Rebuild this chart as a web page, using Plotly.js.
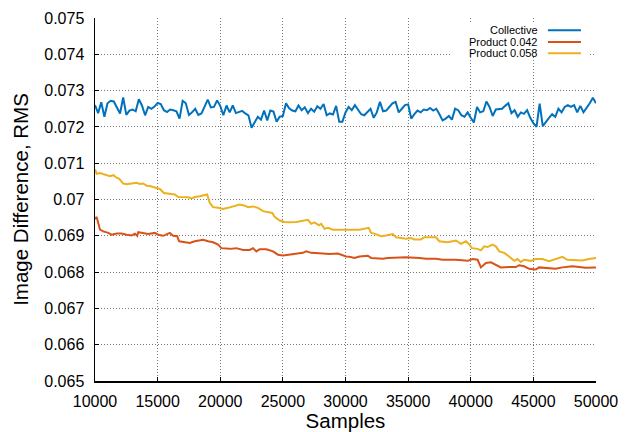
<!DOCTYPE html>
<html>
<head>
<meta charset="utf-8">
<script src="https://cdn.plot.ly/plotly-3.0.1.min.js"></script>
<style>html,body{margin:0;padding:0;background:#fff;}#chart{width:630px;height:432px;}</style>
</head>
<body>
<div id="chart"></div>
<script>
const seriesNames = ["Collective", "Product 0.042", "Product 0.058"];
const seriesColors = ["#0072BD", "#D95319", "#EDB120"];

const collectiveX = [10000,10250,10500,10750,11000,11250,11500,11750,12000,12250,12500,12750,13000,13250,13500,13750,14000,14250,14500,14750,
15000,15250,15500,15750,16000,16250,16500,16750,17000,17250,17500,17750,18000,18250,18500,18750,19000,19250,19500,19750,
20000,20250,20500,20750,21000,21250,21500,21750,22000,22250,22500,22750,23000,23250,23500,23750,24000,24250,24500,24750,
25000,25250,25500,25750,26000,26250,26500,26750,27000,27250,27500,27750,28000,28250,28500,28750,29000,29250,29500,29750,
30000,30250,30500,30750,31000,31250,31500,31750,32000,32250,32500,32750,33000,33250,33500,33750,34000,34250,34500,34750,
35000,35250,35500,35750,36000,36250,36500,36750,37000,37250,37500,37750,38000,38250,38500,38750,39000,39250,39500,39750,
40000,40250,40500,40750,41000,41250,41500,41750,42000,42250,42500,42750,43000,43250,43500,43750,44000,44250,44500,44750,
45000,45250,45500,45750,46000,46250,46500,46750,47000,47250,47500,47750,48000,48250,48500,48750,49000,49250,49500,49750,50000];
const collectiveY = [0.07260,0.07238,0.07268,0.07228,0.07265,0.07272,0.07270,0.07255,0.07237,0.07281,0.07233,0.07245,0.07248,0.07243,0.07276,0.07259,0.07232,0.07255,0.07250,0.07256,
0.07266,0.07263,0.07246,0.07241,0.07248,0.07246,0.07243,0.07223,0.07272,0.07265,0.07233,0.07240,0.07250,0.07233,0.07237,0.07256,0.07275,0.07254,0.07255,0.07273,
0.07258,0.07232,0.07259,0.07240,0.07259,0.07238,0.07241,0.07244,0.07237,0.07232,0.07198,0.07215,0.07228,0.07220,0.07245,0.07218,0.07245,0.07242,0.07214,0.07228,
0.07230,0.07265,0.07251,0.07245,0.07243,0.07259,0.07246,0.07254,0.07238,0.07250,0.07242,0.07257,0.07250,0.07263,0.07232,0.07237,0.07234,0.07258,0.07214,0.07214,
0.07240,0.07255,0.07246,0.07260,0.07248,0.07235,0.07232,0.07240,0.07250,0.07225,0.07240,0.07269,0.07243,0.07245,0.07255,0.07265,0.07269,0.07240,0.07250,0.07260,
0.07262,0.07223,0.07235,0.07245,0.07240,0.07248,0.07246,0.07252,0.07245,0.07250,0.07235,0.07218,0.07223,0.07230,0.07220,0.07250,0.07246,0.07232,0.07228,0.07240,
0.07225,0.07212,0.07255,0.07240,0.07243,0.07270,0.07255,0.07230,0.07248,0.07250,0.07250,0.07258,0.07265,0.07238,0.07246,0.07228,0.07240,0.07236,0.07246,0.07225,
0.07210,0.07200,0.07264,0.07202,0.07215,0.07225,0.07235,0.07228,0.07250,0.07240,0.07255,0.07260,0.07255,0.07260,0.07240,0.07258,0.07240,0.07252,0.07265,0.07280,0.07265];

const p042X = [10000,10133,10398,10664,11063,11328,11727,12125,12524,12922,13188,13374,13453,13852,14250,14781,15047,15445,15711,15976,
16242,16561,16720,17172,17570,17968,18367,18632,19031,19429,19828,20093,20757,21288,21820,22351,22616,22882,23148,23679,
24210,24608,25007,25538,26069,26600,26866,27264,28194,28725,29389,30053,30319,30717,31116,31780,32045,32975,33373,34834,
35896,36428,37224,37756,38818,39748,40146,40545,40810,41208,41607,42005,42404,43068,43599,43865,44263,44661,45192,45458,
46122,46786,47317,48114,48645,49176,49840,50000];
const p042Y = [0.06946,0.06952,0.06917,0.06912,0.06908,0.06903,0.06906,0.06906,0.06903,0.06901,0.06906,0.06900,0.06910,0.06908,0.06905,0.06908,0.06903,0.06900,0.06903,0.06908,
0.06900,0.06899,0.06885,0.06882,0.06880,0.06885,0.06887,0.06889,0.06885,0.06882,0.06876,0.06866,0.06864,0.06866,0.06861,0.06861,0.06866,0.06857,0.06863,0.06863,
0.06857,0.06848,0.06846,0.06848,0.06851,0.06853,0.06857,0.06853,0.06851,0.06850,0.06851,0.06843,0.06842,0.06839,0.06843,0.06845,0.06839,0.06837,0.06839,0.06841,
0.06839,0.06837,0.06837,0.06834,0.06834,0.06831,0.06836,0.06834,0.06813,0.06825,0.06827,0.06820,0.06813,0.06814,0.06814,0.06819,0.06816,0.06809,0.06807,0.06813,
0.06811,0.06809,0.06813,0.06816,0.06814,0.06812,0.06813,0.06813];

const p058X = [10000,10133,10398,10797,11195,11461,11726,11939,12258,12523,12922,13320,13586,13851,14117,14382,14781,15179,15498,15976,
16375,16640,17039,17437,17703,17968,18367,18765,18951,19163,19429,19827,20226,20624,21023,21554,21952,22218,22616,23015,
23413,23811,24157,24343,24741,25140,25538,26069,26600,26999,27264,27530,27875,28061,28327,28592,28991,29788,30319,31116,
31859,32045,32311,32842,33240,33772,34037,34834,35232,35498,36029,36295,37224,37490,38154,38818,39216,39615,39880,40093,
40545,40810,41076,41341,41740,42005,42271,42669,43068,43466,43732,43997,44263,44794,45192,45724,46255,46786,47317,47716,
48380,48911,49442,49840,50000];
const p058Y = [0.07083,0.07071,0.07073,0.07069,0.07064,0.07067,0.07060,0.07057,0.07044,0.07042,0.07044,0.07046,0.07043,0.07044,0.07038,0.07037,0.07033,0.07029,0.07018,0.07016,
0.07014,0.07007,0.07007,0.07006,0.07003,0.07007,0.07009,0.07012,0.07014,0.06991,0.06979,0.06977,0.06974,0.06977,0.06981,0.06986,0.06983,0.06979,0.06981,0.06977,
0.06968,0.06965,0.06963,0.06952,0.06942,0.06938,0.06937,0.06938,0.06941,0.06944,0.06933,0.06937,0.06929,0.06933,0.06919,0.06922,0.06917,0.06917,0.06919,0.06917,
0.06922,0.06908,0.06906,0.06899,0.06901,0.06905,0.06896,0.06892,0.06894,0.06890,0.06890,0.06896,0.06896,0.06885,0.06882,0.06887,0.06878,0.06885,0.06876,0.06866,
0.06864,0.06860,0.06871,0.06869,0.06876,0.06871,0.06857,0.06853,0.06843,0.06831,0.06836,0.06828,0.06834,0.06831,0.06836,0.06836,0.06830,0.06836,0.06842,0.06834,
0.06834,0.06832,0.06836,0.06839,0.06839];

const xTickVals = [10000,15000,20000,25000,30000,35000,40000,45000,50000];
const yTickVals = [0.065,0.066,0.067,0.068,0.069,0.07,0.071,0.072,0.073,0.074,0.075];
const yTickText = ["0.065","0.066","0.067","0.068","0.069","0.07","0.071","0.072","0.073","0.074","0.075"];

const FONT = "Liberation Sans, Arial, Helvetica, sans-serif";
const xs = [collectiveX, p042X, p058X];
const ys = [collectiveY, p042Y, p058Y];
const traces = xs.map((x, i) => ({
  x: x, y: ys[i], type: "scatter", mode: "lines", name: seriesNames[i],
  line: {color: seriesColors[i], width: 2}, showlegend: false
}));

// custom legend (text right-aligned, swatch on the right)
const shapes = [{type: "rect", xref: "paper", yref: "paper", x0: 0.712, x1: 0.988, y0: 0.895, y1: 0.985,
  fillcolor: "#fff", line: {width: 0}, layer: "above"}];
const annotations = [];
const legendRows = [0.966, 0.934, 0.903];
seriesNames.forEach((n, i) => {
  annotations.push({xref: "paper", yref: "paper", x: 0.889, y: legendRows[i], xanchor: "right", yanchor: "middle",
    text: n, showarrow: false, font: {family: FONT, size: 11, color: "#000"}});
  shapes.push({type: "line", xref: "paper", yref: "paper", x0: 0.904, x1: 0.970, y0: legendRows[i], y1: legendRows[i],
    line: {color: seriesColors[i], width: 2}, layer: "above"});
});

const layout = {
  width: 630, height: 432,
  margin: {l: 95, r: 34, t: 18, b: 51},
  paper_bgcolor: "#fff", plot_bgcolor: "#fff",
  font: {family: FONT, size: 16, color: "#000"},
  xaxis: {
    range: [10000, 50000], tickvals: xTickVals, ticktext: xTickVals.map(String),
    showgrid: true, gridcolor: "#777", griddash: "1px,2px", gridwidth: 1,
    showline: true, linecolor: "#000", linewidth: 1.5,
    ticks: "inside", ticklen: 4, tickcolor: "#000", ticklabelstandoff: 5,
    zeroline: false,
    title: {text: "Samples", font: {family: FONT, size: 20.5}, standoff: 6}
  },
  yaxis: {
    range: [0.065, 0.075], tickvals: yTickVals, ticktext: yTickText,
    showgrid: true, gridcolor: "#777", griddash: "1px,2px", gridwidth: 1,
    showline: true, linecolor: "#000", linewidth: 1.5,
    ticks: "inside", ticklen: 4, tickcolor: "#000", ticklabelstandoff: 6,
    zeroline: false,
    title: {text: "Image Difference, RMS", font: {family: FONT, size: 20.5}, standoff: 10}
  },
  shapes: shapes,
  annotations: annotations
};
Plotly.newPlot("chart", traces, layout, {displayModeBar: false, staticPlot: true});
</script>
</body>
</html>
